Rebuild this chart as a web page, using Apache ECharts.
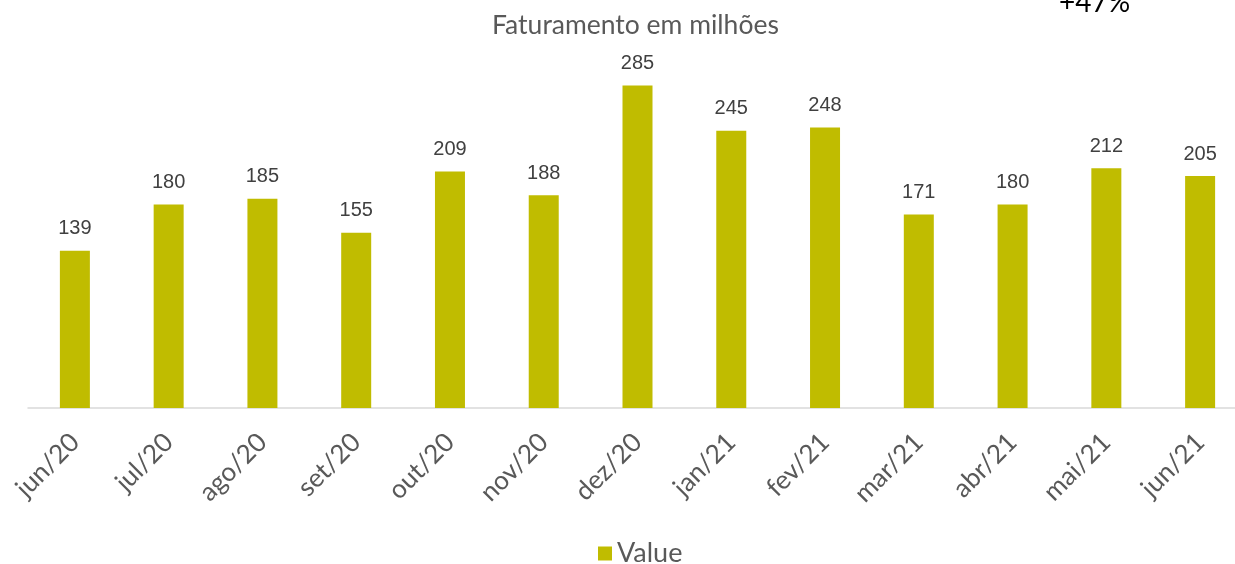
<!DOCTYPE html>
<html>
<head>
<meta charset="utf-8">
<script src="https://cdn.jsdelivr.net/npm/echarts@6/dist/echarts.min.js"></script>
<style>
  html, body { margin: 0; padding: 0; background: #fff; }
  #main { width: 1235px; height: 564px; }
</style>
</head>
<body>
<div id="main"></div>
<script>
var months = ['jun/20','jul/20','ago/20','set/20','out/20','nov/20','dez/20','jan/21','fev/21','mar/21','abr/21','mai/21','jun/21'];
var values = [139, 180, 185, 155, 209, 188, 285, 245, 248, 171, 180, 212, 205];
var growthText = '+47%';

var myChart = echarts.init(document.getElementById('main'));
var option = {
    animation: false,
    title: {
        text: 'Faturamento em milhões',
        left: 487,
        top: 7,
        textStyle: { fontFamily: 'Lato', fontSize: 26.5, fontWeight: 'normal', color: '#595959' }
    },
    legend: {
        top: 535,
        left: 593,
        itemWidth: 14,
        itemHeight: 14,
        icon: 'rect',
        textStyle: { fontFamily: 'Lato', fontSize: 27, color: '#595959' },
        data: ['Value']
    },
    graphic: [{
        type: 'text',
        left: 1059,
        top: -11,
        style: { text: growthText, font: '28px Lato', fill: '#000' }
    }],
    grid: { left: 28, width: 1219, top: 46, bottom: 156, containLabel: false, outerBoundsMode: 'none' },
    xAxis: {
        type: 'category',
        data: months,
        axisLine: { lineStyle: { color: '#d9d9d9', width: 1.5 } },
        axisTick: { show: false },
        axisLabel: {
            rotate: 45,
            margin: 30,
            fontFamily: 'Lato',
            fontSize: 26,
            color: '#595959'
        }
    },
    yAxis: {
        type: 'value',
        min: 0,
        max: 320,
        show: false,
        splitLine: { show: false }
    },
    series: [{
        name: 'Value',
        type: 'bar',
        data: values,
        barWidth: 30,
        itemStyle: { color: '#C0BC00' },
        label: {
            show: true,
            position: 'top',
            distance: 12,
            fontFamily: 'Arial',
            fontSize: 20,
            color: '#404040'
        }
    }]
};
myChart.setOption(option);
</script>
</body>
</html>
